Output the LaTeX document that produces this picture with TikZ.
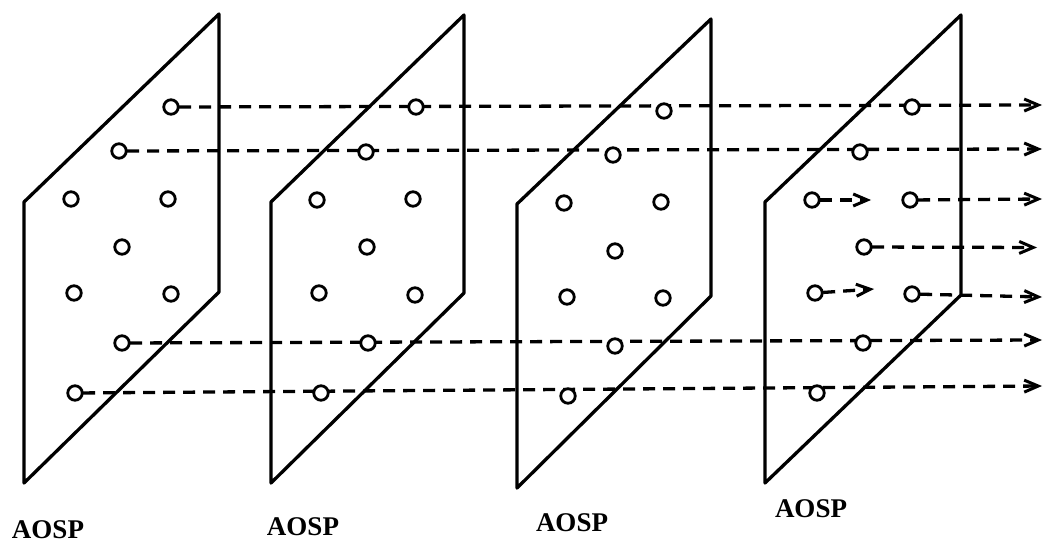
\documentclass[tikz,border=0pt]{standalone}
\usepackage{fontspec}
\setmainfont{Liberation Serif}
\usetikzlibrary{arrows.meta}
\begin{document}
\begin{tikzpicture}[x=1pt,y=-1pt,
  panel/.style={line width=3.3pt, line join=round},
  dot/.style={circle, draw, line width=2.8pt, fill=white, minimum size=14.5pt, inner sep=0pt},
  ray/.style={line width=3.3pt, dash pattern=on 12pt off 8pt,
    -{Straight Barb[length=14pt,width=12pt,line width=3pt]}},
  lbl/.style={font=\fontsize{27}{30}\selectfont\bfseries, inner sep=0pt}]
\useasboundingbox (0,0) rectangle (1044,543);
\fill[white] (0,0) rectangle (1044,543);

% panels
\draw[panel] (24,202) -- (219,14) -- (219,292) -- (24,483) -- cycle;
\draw[panel] (271,202) -- (464,15) -- (464,293) -- (271,483) -- cycle;
\draw[panel] (517,204) -- (711,19) -- (711,296) -- (517,488) -- cycle;
\draw[panel] (765,202) -- (961,15) -- (961,295) -- (765,483) -- cycle;

% circle positions (named nodes, drawn after rays)
\path
  (171,107) coordinate (pa1) (119,151) coordinate (pa2) (71,199) coordinate (pa3)
  (168,199) coordinate (pa4) (122,247) coordinate (pa5) (74,293) coordinate (pa6)
  (171,294) coordinate (pa7) (122,343) coordinate (pa8) (75,393) coordinate (pa9)
  (416,107) coordinate (pb1) (366,152) coordinate (pb2) (317,200) coordinate (pb3)
  (413,199) coordinate (pb4) (367,247) coordinate (pb5) (319,293) coordinate (pb6)
  (415,295) coordinate (pb7) (368,343) coordinate (pb8) (321,393) coordinate (pb9)
  (664,111) coordinate (pc1) (613,155) coordinate (pc2) (564,203) coordinate (pc3)
  (661,202) coordinate (pc4) (615,251) coordinate (pc5) (567,297) coordinate (pc6)
  (663,298) coordinate (pc7) (615,346) coordinate (pc8) (568,396) coordinate (pc9)
  (912,107) coordinate (pd1) (860,152) coordinate (pd2) (812,200) coordinate (pd3)
  (910,200) coordinate (pd4) (864,247) coordinate (pd5) (815,293) coordinate (pd6)
  (912,294) coordinate (pd7) (863,343) coordinate (pd8) (817,393) coordinate (pd9);

% invisible copies of the source circles so rays start at their border
\foreach \n in {a1,a2,a8,a9,d3,d4,d5,d6,d7}
  \node[circle, minimum size=16pt, inner sep=0pt] (s\n) at (p\n) {};

% ray ends
\coordinate (e1) at (1042,105);
\coordinate (e2) at (1042,149);
\coordinate (e3a) at (871,200);
\coordinate (e3b) at (1042,199);
\coordinate (e4) at (1037,247.5);
\coordinate (e5a) at (874,289);
\coordinate (e5b) at (1042,297);
\coordinate (e6) at (1042,340);
\coordinate (e7) at (1042,386);

\draw[ray] (sa1) -- (e1);
\draw[ray] (sa2) -- (e2);
\draw[ray] (sd3) -- (e3a);
\draw[ray] (sd4) -- (e3b);
\draw[ray] (sd5) -- (e4);
\draw[ray] (sd6) -- (e5a);
\draw[ray] (sd7) -- (e5b);
\draw[ray] (sa8) -- (e6);
\draw[ray] (sa9) -- (e7);

% circles
\foreach \p in {a,b,c,d}
  \foreach \i in {1,...,9}
    \node[dot] (\p\i) at (p\p\i) {};

% labels
\node[lbl] (l1) at (48,530) {AOSP};
\node[lbl] (l2) at (303,527) {AOSP};
\node[lbl] (l3) at (572,523) {AOSP};
\node[lbl] (l4) at (811,509) {AOSP};
\end{tikzpicture}
\end{document}
